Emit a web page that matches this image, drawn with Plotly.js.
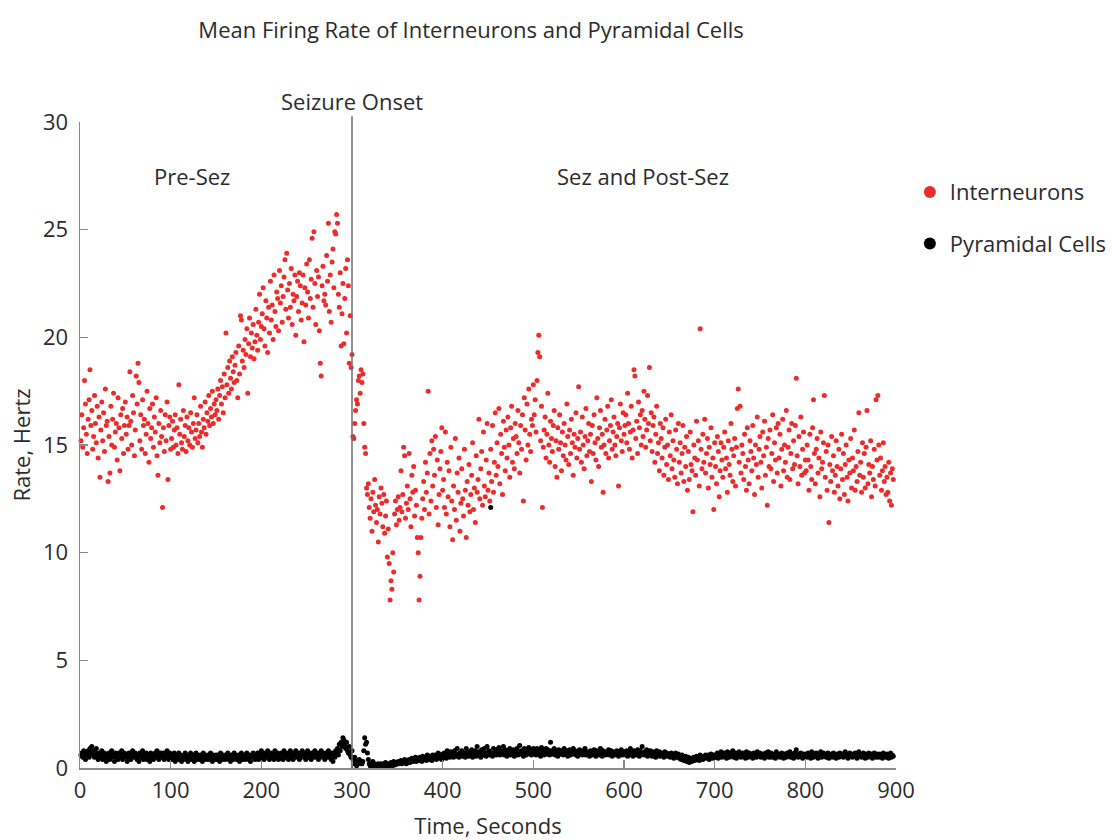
<!DOCTYPE html>
<html>
<head>
<meta charset="utf-8">
<script src="https://cdn.plot.ly/plotly-3.0.1.min.js"></script>
<style>html,body{margin:0;padding:0;background:#fff;}#chart{width:1112px;height:840px;}</style>
</head>
<body>
<div id="chart"></div>
<script>
// Sampling: one value per second, starting at 1 s
const START_SECOND = 1;
const STEP_SECONDS = 1;

// Interneurons mean firing rate (Hz), in 100-second blocks
const inter000 = [15.2,16.4,14.9,15.8,18.0,16.9,15.5,14.6,16.2,17.1, 18.5,15.9,16.6,14.8,15.4,17.3,16.0,15.1,16.8,14.4, 16.3,13.5,15.7,17.0,15.2,16.5,14.7,17.6,15.9,16.1, 13.3,15.4,13.7,16.8,15.0,16.2,17.4,14.9,15.6,16.0, 14.3,17.2,15.8,13.8,16.4,15.3,16.7,14.6,15.9,17.0, 15.5,16.3,14.8,15.9,18.4,16.1,15.0,17.3,16.5,14.5, 15.7,18.2,16.9,18.8,17.9,15.2,16.4,14.8,17.1,15.9, 16.2,14.6,15.5,17.5,16.0,14.2,16.7,15.3,15.8,16.9, 14.9,16.3,15.6,17.2,14.5,13.6,16.0,15.1,16.6,15.4, 12.1,15.8,14.7,16.4,15.2,17.0,13.4,15.9,16.3,14.8];
const inter100 = [15.3,16.1,14.9,15.7,16.4,15.0,15.8,14.6,17.8,15.5, 16.2,15.1,14.8,16.6,15.4,15.9,14.7,16.3,15.2,15.8, 15.0,16.5,15.6,14.9,16.0,17.2,15.3,15.7,16.4,15.1, 16.0,15.4,16.8,15.6,14.9,16.2,15.8,17.0,15.5,16.5, 16.1,17.3,15.9,16.7,16.3,17.5,16.0,16.9,16.4,17.1, 16.6,17.6,16.2,17.3,18.0,16.9,17.7,16.5,18.3,17.2, 20.2,17.8,18.6,17.4,18.9,18.1,17.6,19.1,18.4,17.9, 18.7,19.3,18.0,17.2,19.6,18.3,21.0,20.8,18.9,19.4, 18.6,19.9,19.2,20.4,17.4,19.7,20.9,19.1,20.2,19.5, 20.6,19.0,19.8,21.3,20.1,19.4,20.7,22.0,19.9,20.5];
const inter200 = [21.1,22.3,20.4,19.6,21.7,20.9,19.3,21.4,20.2,22.6, 20.8,21.5,19.9,22.9,21.2,20.5,22.1,21.8,20.3,23.1, 21.6,22.4,20.7,21.9,22.8,23.6,21.3,23.9,22.2,20.9, 22.5,21.4,23.2,20.6,22.0,21.7,22.9,20.1,21.9,22.6, 21.2,23.0,22.4,20.8,21.6,22.9,19.8,22.3,21.5,23.4, 22.1,20.9,23.6,21.8,22.7,24.6,21.4,24.9,22.5,20.6, 23.1,21.9,22.8,20.3,18.8,18.2,22.4,23.3,21.7,22.0, 21.5,23.8,22.6,25.3,21.2,22.9,20.7,23.5,24.1,22.3, 24.9,24.8,25.7,25.3,22.0,21.4,23.0,19.6,21.1,22.5, 19.7,21.8,23.2,20.2,23.6,22.4,18.8,21.0,18.6,19.2];
const inter300 = [15.4,15.3,16.0,16.6,17.1,16.9,18.0,18.2,17.4,18.5, 17.9,18.3,16.0,14.9,14.6,13.0,12.7,13.2,12.1,11.6, 12.5,11.0,12.8,11.9,13.4,12.2,11.4,12.0,10.5,12.6, 11.8,13.0,12.3,11.2,12.7,10.9,11.7,12.4,9.8,11.1, 9.5,7.8,8.7,8.3,10.0,9.1,11.8,12.4,11.3,12.0, 12.6,11.5,12.1,13.8,11.9,12.7,14.9,14.5,11.6,12.3, 13.1,12.0,14.6,12.5,11.2,13.6,12.8,14.0,11.7,12.9, 12.2,10.7,10.0,7.8,8.9,10.7,11.6,12.5,13.3,12.0, 14.2,12.8,13.7,17.5,11.8,14.6,12.4,15.2,13.1,14.8, 13.6,15.4,12.1,14.3,11.3,12.7,13.9,14.7,15.8,12.9];
const inter400 = [13.4,12.1,15.6,11.8,14.2,12.6,13.8,11.2,14.9,12.4, 10.6,13.1,12.0,15.3,11.5,13.7,12.8,14.4,11.0,12.3, 13.9,12.5,11.7,14.8,12.9,10.7,13.3,12.2,14.1,11.9, 12.7,13.6,15.1,12.0,13.0,11.4,14.5,12.8,13.4,16.2, 12.5,13.9,14.7,12.2,15.6,13.1,12.6,14.3,16.0,12.9, 13.7,12.4,14.8,13.3,15.9,12.8,14.2,16.5,13.6,15.1, 14.0,16.7,13.2,15.5,14.6,12.7,16.1,14.9,13.8,15.7, 14.4,16.3,15.0,13.5,15.8,16.8,14.2,15.3,13.9,16.0, 15.4,14.6,16.6,15.1,13.7,15.9,14.8,16.4,12.4,17.2, 15.7,14.3,16.9,15.0,17.6,15.5,14.7,16.2,15.9,17.8];
const inter500 = [16.4,17.1,15.6,18.0,19.3,20.1,19.1,15.2,16.8,12.1, 14.9,15.7,16.3,14.4,15.5,17.4,15.0,14.2,16.1,15.3, 14.7,15.9,16.6,14.0,15.2,13.5,15.8,14.8,16.4,15.1, 13.8,15.6,14.5,16.0,15.0,14.3,16.9,15.4,14.1,15.7, 14.6,16.2,15.1,13.6,15.5,14.9,16.5,14.4,15.3,17.7, 14.8,15.6,14.2,16.3,15.0,13.9,15.4,16.7,14.5,15.2, 16.0,14.7,15.5,13.3,15.9,14.6,16.4,15.1,14.3,17.2, 15.3,14.0,15.8,16.6,14.9,15.5,12.8,15.0,16.2,14.6, 15.7,16.8,14.4,15.2,15.9,17.1,14.8,15.6,16.3,15.0, 14.5,15.4,16.0,13.1,15.8,16.9,15.2,14.7,16.5,15.5];
const inter600 = [15.9,16.4,15.1,17.4,16.0,14.8,15.6,16.8,14.4,15.7, 18.5,18.2,15.3,16.1,14.6,17.0,15.8,16.4,15.0,16.6, 15.4,17.5,16.2,14.9,15.7,17.3,16.0,18.6,15.2,16.5, 14.7,15.9,16.3,14.2,15.5,16.8,14.6,15.1,13.8,16.0, 15.3,14.4,15.8,13.6,14.9,16.2,14.1,15.0,13.4,15.6, 14.5,16.4,13.9,15.2,14.3,13.5,15.7,14.8,13.2,16.0, 14.2,15.1,13.7,14.6,15.9,13.3,14.9,14.0,15.4,12.9, 14.7,13.4,15.6,14.1,13.8,11.9,15.0,14.4,13.6,16.1, 14.3,15.2,13.1,20.4,14.8,13.9,15.5,14.2,16.2,13.7, 14.6,15.3,13.0,14.9,14.1,15.8,13.5,14.4,12.0,15.1];
const inter700 = [14.0,13.2,15.4,14.7,12.6,13.8,15.1,14.3,13.5,14.9, 15.6,13.9,14.4,12.8,15.2,14.1,13.6,16.0,14.8,13.3, 14.5,15.3,13.1,14.9,16.7,17.6,14.2,16.8,13.7,15.0, 14.6,13.4,15.5,14.0,12.9,15.8,14.3,13.2,15.2,14.7, 13.8,15.9,14.4,12.7,15.0,14.1,16.3,13.5,14.8,15.4, 14.2,13.0,15.6,14.5,16.1,13.6,14.9,12.2,15.3,14.0, 15.7,13.9,14.6,16.4,13.3,15.1,14.3,15.8,13.7,16.0, 14.4,15.5,13.1,14.8,16.2,13.8,15.0,14.2,16.6,13.5, 14.9,15.7,13.4,14.6,16.0,13.9,15.2,14.1,15.9,18.1, 14.5,13.2,15.4,14.0,16.3,13.6,14.8,15.6,13.7,14.3];
const inter800 = [13.8,15.0,14.3,12.9,15.5,14.0,13.4,15.8,17.1,14.6, 13.2,14.8,15.3,13.7,14.4,12.6,15.6,13.9,14.2,15.1, 17.3,13.5,14.7,12.9,15.0,11.4,14.1,13.3,15.4,13.8, 14.5,12.8,13.6,15.2,14.0,13.1,14.8,12.5,13.9,15.5, 13.4,14.6,12.7,14.1,15.0,13.5,12.4,14.3,13.7,15.3, 13.0,14.4,13.8,15.7,12.9,14.0,13.3,14.7,16.5,13.6, 14.2,12.8,15.1,13.5,14.6,13.0,14.9,16.6,13.2,14.1, 13.7,15.2,12.6,14.0,13.4,14.8,13.1,17.1,14.3,17.3, 15.0,13.6,14.4,12.9,13.8,15.1,13.3,14.0,12.7,13.5, 12.8,14.2,12.4,13.7,12.2,13.9,13.4];

// Pyramidal cells mean firing rate (Hz), same 100-second blocks
const pyr000 = [.6,.7,.5,.8,.6,.4,.7,.6,.8,.5, .9,.7,1.0,.6,.8,.5,.7,.9,.6,.4, .7,.5,.6,.8,.4,.6,.7,.5,.3,.6, .5,.7,.4,.6,.8,.5,.6,.3,.7,.5, .6,.4,.7,.5,.6,.8,.4,.5,.7,.6, .5,.3,.6,.7,.5,.4,.6,.8,.5,.6, .7,.5,.4,.6,.3,.7,.5,.6,.8,.4, .6,.5,.7,.4,.6,.5,.3,.7,.6,.5, .4,.6,.7,.5,.8,.6,.4,.5,.7,.6, .5,.7,.4,.6,.5,.8,.6,.4,.7,.5];
const pyr100 = [.6,.4,.5,.7,.3,.6,.5,.4,.7,.5, .6,.3,.5,.4,.6,.7,.5,.4,.3,.6, .5,.7,.4,.5,.6,.3,.5,.7,.4,.6, .5,.4,.6,.5,.3,.7,.5,.6,.4,.5, .6,.4,.5,.7,.5,.3,.6,.4,.5,.6, .4,.6,.5,.3,.7,.5,.4,.6,.5,.4, .6,.5,.7,.4,.5,.3,.6,.5,.4,.7, .5,.6,.4,.5,.6,.3,.5,.7,.4,.5, .6,.4,.5,.7,.5,.4,.6,.3,.5,.6, .7,.5,.4,.6,.5,.7,.4,.6,.5,.8];
const pyr200 = [.5,.6,.4,.7,.5,.6,.8,.5,.4,.6, .7,.5,.6,.4,.8,.6,.5,.7,.4,.6, .5,.7,.6,.4,.8,.5,.6,.7,.5,.4, .6,.8,.5,.7,.4,.6,.5,.8,.6,.5, .7,.4,.6,.5,.8,.6,.7,.5,.4,.6, .8,.5,.7,.6,.4,.7,.5,.6,.8,.5, .6,.7,.4,.6,.5,.8,.6,.7,.5,.4, .7,.5,.6,.8,.5,.6,.4,.7,.3,.6, .5,.8,.7,.9,.6,1.1,.8,1.2,1.0,1.4, 1.3,1.1,.9,1.2,.8,.7,1.0,.6,.5,.8];
const pyr300 = [.4,.2,.5,.3,.1,.3,.2,.4,.2,.3, .2,.3,.8,1.4,1.1,1.2,.7,.4,.2,.1, .2,.1,.3,.1,.2,.05,.15,.1,.2,.1, .05,.2,.1,.15,.2,.1,.25,.1,.2,.15, .1,.2,.25,.15,.1,.3,.2,.15,.25,.2, .3,.2,.25,.35,.2,.3,.25,.4,.3,.2, .35,.3,.4,.25,.3,.45,.35,.3,.4,.5, .3,.45,.4,.35,.5,.4,.3,.55,.45,.4, .5,.35,.6,.45,.4,.55,.5,.35,.6,.45, .5,.6,.4,.55,.7,.45,.5,.6,.4,.65];
const pyr400 = [.5,.7,.6,.45,.8,.55,.65,.5,.75,.6, .7,.5,.8,.6,.55,.9,.65,.5,.7,.6, .8,.55,.65,.7,.5,.9,.6,.75,.55,.7, .6,.85,.5,.7,.65,.8,.55,1.0,.6,.75, .7,.5,.85,.65,.6,.9,.7,.55,1.0,.65, .8,.6,12.1,.7,.55,.9,.65,.75,.6,.85, .7,.95,.6,.8,.65,.75,1.0,.6,.85,.7, .55,.8,.7,.9,.6,.75,.65,.85,.55,.8, .7,.9,.6,.75,1.05,.65,.8,.7,.55,.9, .75,.6,.85,.7,.95,.65,.8,.6,.75,.9];
const pyr500 = [.7,.85,.6,.9,.75,.65,.8,.55,.95,.7, .8,.6,.75,.9,.65,.85,.7,.6,1.2,.8, .65,.75,.9,.6,.8,.7,.55,.85,.75,.65, .8,.7,.6,.9,.75,.65,.8,.55,.7,.85, .6,.75,.7,.9,.65,.8,.6,.75,.55,.7, .85,.65,.75,.6,.8,.7,.9,.6,.75,.65, .7,.55,.8,.65,.75,.6,.85,.7,.55,.8, .65,.75,.6,.9,.7,.55,.8,.65,.7,.6, .75,.65,.85,.6,.7,.8,.55,.75,.65,.7, .6,.8,.7,.55,.75,.65,.85,.6,.7,.75];
const pyr600 = [.7,.6,.8,.55,.75,.65,.9,.6,.7,.55, .8,.65,.75,.6,.85,.7,.55,.8,.65,1.0, .7,.6,.75,.65,.85,.55,.7,.6,.8,.65, .55,.75,.6,.7,.5,.8,.65,.6,.75,.55, .7,.6,.65,.5,.75,.6,.7,.55,.65,.6, .5,.7,.55,.65,.45,.6,.7,.5,.55,.65, .45,.55,.4,.6,.5,.35,.45,.55,.3,.4, .5,.25,.35,.45,.3,.4,.5,.35,.45,.55, .4,.5,.35,.6,.45,.5,.4,.55,.45,.6, .5,.45,.6,.4,.55,.65,.5,.45,.6,.5];
const pyr700 = [.6,.5,.7,.45,.65,.55,.75,.5,.6,.7, .55,.65,.45,.75,.6,.5,.7,.55,.65,.8, .5,.6,.7,.45,.65,.55,.75,.6,.5,.65, .7,.55,.6,.45,.75,.6,.5,.7,.55,.65, .6,.45,.7,.55,.6,.5,.75,.6,.55,.7, .5,.65,.55,.6,.45,.7,.6,.55,.75,.5, .6,.7,.5,.65,.55,.6,.45,.75,.6,.55, .65,.5,.6,.7,.55,.45,.65,.6,.5,.7, .55,.6,.75,.5,.65,.6,.45,.7,.55,.85, .6,.5,.65,.55,.7,.6,.45,.65,.55,.6];
const pyr800 = [.65,.5,.7,.55,.6,.45,.75,.6,.5,.65, .55,.7,.6,.45,.65,.55,.75,.5,.6,.7, .55,.65,.5,.6,.7,.45,.6,.55,.65,.5, .7,.6,.55,.45,.65,.6,.5,.7,.55,.6, .65,.5,.6,.75,.55,.6,.45,.65,.7,.55, .6,.5,.65,.55,.7,.6,.45,.6,.75,.55, .65,.5,.6,.7,.55,.45,.65,.6,.5,.7, .55,.6,.65,.45,.6,.7,.55,.5,.65,.6, .5,.65,.55,.6,.45,.7,.55,.6,.5,.65, .6,.45,.55,.7,.5,.6,.55];

// Labels
const chartTitle = 'Mean Firing Rate of Interneurons and Pyramidal Cells';
const xTitle = 'Time, Seconds';
const yTitle = 'Rate, Hertz';
const seriesNames = ['Interneurons', 'Pyramidal Cells'];
const onsetSecond = 300;
const onsetLabel = 'Seizure Onset';
const phaseLabels = ['Pre-Sez', 'Sez and Post-Sez'];
const phaseLabelX = [123, 621];
const phaseLabelY = 27.5;
const xTickVals = [0,100,200,300,400,500,600,700,800,900];
const yTickVals = [0,5,10,15,20,25,30];

const interneurons = [].concat(inter000, inter100, inter200, inter300, inter400, inter500, inter600, inter700, inter800);
const pyramidal = [].concat(pyr000, pyr100, pyr200, pyr300, pyr400, pyr500, pyr600, pyr700, pyr800);
const timeI = interneurons.map((_, i) => START_SECOND + i * STEP_SECONDS);
const timeP = pyramidal.map((_, i) => START_SECOND + i * STEP_SECONDS);

const FONT = '"Open Sans", "Noto Sans", sans-serif';
const TXT = '#2b2b2b';
const AX = '#8a8a8a';
const FS = 22;

const traces = [
  {x: timeI, y: interneurons, name: seriesNames[0], type: 'scatter', mode: 'markers',
   marker: {color: '#ec2b2b', size: 5}, cliponaxis: false, legendgroup: 'a'},
  {x: timeP, y: pyramidal, name: seriesNames[1], type: 'scatter', mode: 'markers',
   marker: {color: '#000000', size: 5}, cliponaxis: false, legendgroup: 'b'}
];

const layout = {
  width: 1112, height: 840,
  margin: {l: 80, r: 216, t: 122, b: 72, autoexpand: false},
  paper_bgcolor: '#fff', plot_bgcolor: '#fff',
  font: {family: FONT, color: TXT, size: FS},
  title: {text: chartTitle, font: {family: FONT, size: 22, color: TXT},
          x: 0.4236, xanchor: 'center', xref: 'container', y: 0.964, yanchor: 'middle', yref: 'container'},
  xaxis: {range: [0, 900], tickvals: xTickVals, showgrid: false, zeroline: false, automargin: false,
          showline: true, linecolor: AX, linewidth: 1.5, ticks: 'inside', ticklen: 8, tickwidth: 1.5, tickcolor: AX,
          tickfont: {family: FONT, size: FS, color: TXT}, ticklabelstandoff: 2,
          title: {text: xTitle, font: {family: FONT, size: FS, color: TXT}, standoff: 16}},
  yaxis: {range: [0, 30], tickvals: yTickVals, showgrid: false, zeroline: false, automargin: false,
          showline: true, linecolor: AX, linewidth: 1.5, ticks: 'inside', ticklen: 8, tickwidth: 1.5, tickcolor: AX,
          tickfont: {family: FONT, size: FS, color: TXT}, ticklabelstandoff: 6,
          title: {text: yTitle, font: {family: FONT, size: FS, color: TXT}, standoff: 6}},
  showlegend: true,
  legend: {x: 1.017, xanchor: 'left', y: 0.924, yanchor: 'top', traceorder: 'grouped', tracegroupgap: 20,
           itemsizing: 'constant', font: {family: FONT, size: FS, color: TXT}, bgcolor: 'rgba(0,0,0,0)'},
  shapes: [{type: 'line', xref: 'x', yref: 'paper', x0: onsetSecond, x1: onsetSecond, y0: 0, y1: 1.009,
            line: {color: '#6e6e6e', width: 1.5}}],
  annotations: [
    {text: onsetLabel, xref: 'x', yref: 'paper', x: onsetSecond, y: 1.0325, showarrow: false,
     xanchor: 'center', yanchor: 'middle', font: {family: FONT, size: FS, color: TXT}},
    {text: phaseLabels[0], xref: 'x', yref: 'y', x: phaseLabelX[0], y: phaseLabelY, showarrow: false,
     xanchor: 'center', yanchor: 'middle', font: {family: FONT, size: FS, color: TXT}},
    {text: phaseLabels[1], xref: 'x', yref: 'y', x: phaseLabelX[1], y: phaseLabelY, showarrow: false,
     xanchor: 'center', yanchor: 'middle', font: {family: FONT, size: FS, color: TXT}}
  ]
};

Plotly.newPlot('chart', traces, layout, {displayModeBar: false, staticPlot: true});
</script>
</body>
</html>
